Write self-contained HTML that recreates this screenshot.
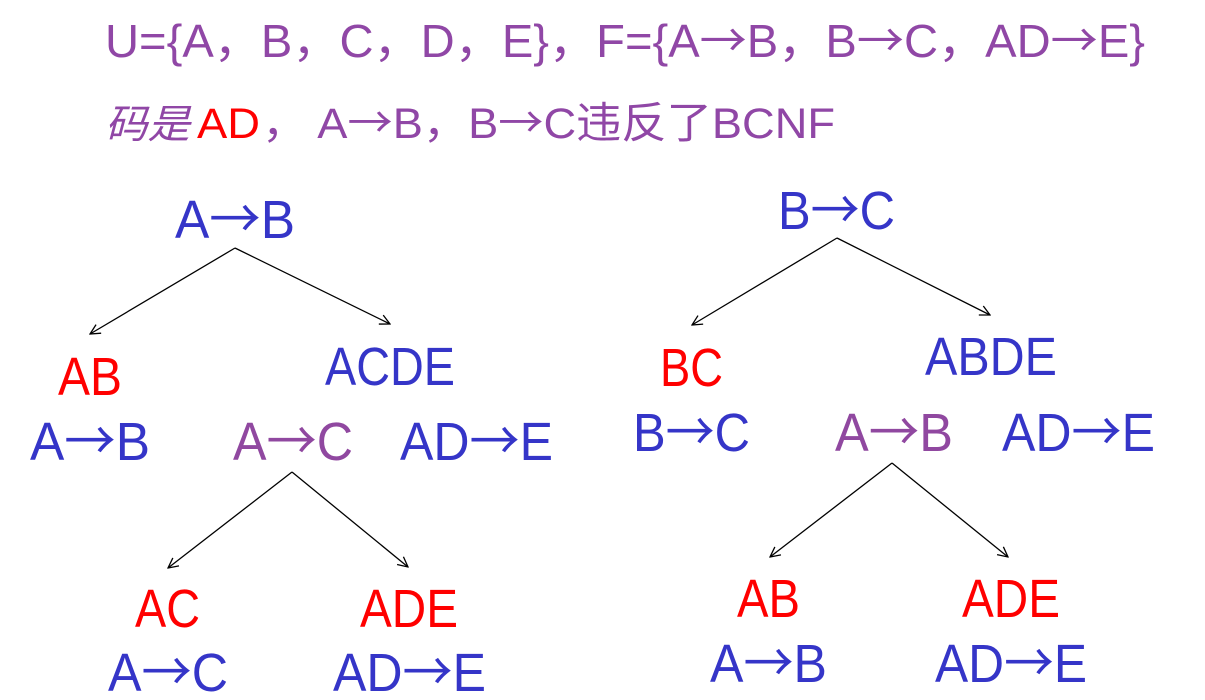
<!DOCTYPE html>
<html><head><meta charset="utf-8"><style>
html,body{margin:0;padding:0;background:#fff;}
svg{display:block;}
text{font-family:"Liberation Sans","Noto Sans CJK SC",sans-serif;}
.ar{font-family:"Noto Sans CJK SC","Liberation Sans",sans-serif;}
.p{fill:#9047a6;} .b{fill:#3535c8;} .r{fill:#ff0000;} .m{fill:#9048a0;}
line{stroke:#000;stroke-width:1.3;}
</style></head><body>
<svg width="1205" height="700" viewBox="0 0 1205 700">
<defs><marker id="ah" viewBox="0 0 12 12" refX="11" refY="6" markerWidth="12" markerHeight="12" markerUnits="userSpaceOnUse" orient="auto"><path d="M1,1 L11,6 L1,11" fill="none" stroke="#000" stroke-width="1.3"/></marker></defs>
<text class="p" x="105" y="57" font-size="46" textLength="1040" lengthAdjust="spacingAndGlyphs">U={A，B，C，D，E}，F={A<tspan class="ar">→</tspan>B，B<tspan class="ar">→</tspan>C，AD<tspan class="ar">→</tspan>E}</text>
<text class="p" x="105" y="138" font-size="40" textLength="85" lengthAdjust="spacingAndGlyphs" font-style="italic">码是</text>
<text class="r" x="197" y="138" font-size="43" textLength="63" lengthAdjust="spacingAndGlyphs">AD</text>
<text class="p" x="262" y="138" font-size="43" textLength="573" lengthAdjust="spacingAndGlyphs">，  A<tspan class="ar">→</tspan>B，B<tspan class="ar">→</tspan>C违反了BCNF</text>

<g>
<text class="b" x="175" y="238" font-size="54" textLength="120" lengthAdjust="spacingAndGlyphs">A<tspan class="ar">→</tspan>B</text>
<line x1="235" y1="248" x2="90" y2="334" marker-end="url(#ah)"/>
<line x1="235" y1="248" x2="390" y2="324" marker-end="url(#ah)"/>
<text class="r" x="58" y="395" font-size="54" textLength="64" lengthAdjust="spacingAndGlyphs">AB</text>
<text class="b" x="325" y="385" font-size="54" textLength="130" lengthAdjust="spacingAndGlyphs">ACDE</text>
<text class="b" x="30" y="460" font-size="54" textLength="120" lengthAdjust="spacingAndGlyphs">A<tspan class="ar">→</tspan>B</text>
<text class="m" x="233" y="460" font-size="54" textLength="120" lengthAdjust="spacingAndGlyphs">A<tspan class="ar">→</tspan>C</text>
<text class="b" x="400" y="460" font-size="54" textLength="153" lengthAdjust="spacingAndGlyphs">AD<tspan class="ar">→</tspan>E</text>
<line x1="292" y1="472" x2="168" y2="568" marker-end="url(#ah)"/>
<line x1="292" y1="472" x2="408" y2="567" marker-end="url(#ah)"/>
<text class="r" x="135" y="627" font-size="54" textLength="65" lengthAdjust="spacingAndGlyphs">AC</text>
<text class="r" x="360" y="627" font-size="54" textLength="98" lengthAdjust="spacingAndGlyphs">ADE</text>
<text class="b" x="108" y="691" font-size="54" textLength="120" lengthAdjust="spacingAndGlyphs">A<tspan class="ar">→</tspan>C</text>
<text class="b" x="333" y="691" font-size="54" textLength="153" lengthAdjust="spacingAndGlyphs">AD<tspan class="ar">→</tspan>E</text>
</g>

<g>
<text class="b" x="778" y="229" font-size="54" textLength="117" lengthAdjust="spacingAndGlyphs">B<tspan class="ar">→</tspan>C</text>
<line x1="837" y1="238" x2="692" y2="325" marker-end="url(#ah)"/>
<line x1="837" y1="238" x2="990" y2="315" marker-end="url(#ah)"/>
<text class="r" x="660" y="386" font-size="54" textLength="63" lengthAdjust="spacingAndGlyphs">BC</text>
<text class="b" x="925" y="375" font-size="54" textLength="132" lengthAdjust="spacingAndGlyphs">ABDE</text>
<text class="b" x="633" y="451" font-size="54" textLength="117" lengthAdjust="spacingAndGlyphs">B<tspan class="ar">→</tspan>C</text>
<text class="m" x="835" y="451" font-size="54" textLength="118" lengthAdjust="spacingAndGlyphs">A<tspan class="ar">→</tspan>B</text>
<text class="b" x="1002" y="451" font-size="54" textLength="153" lengthAdjust="spacingAndGlyphs">AD<tspan class="ar">→</tspan>E</text>
<line x1="892" y1="463" x2="770" y2="557" marker-end="url(#ah)"/>
<line x1="892" y1="463" x2="1008" y2="557" marker-end="url(#ah)"/>
<text class="r" x="737" y="617" font-size="54" textLength="63" lengthAdjust="spacingAndGlyphs">AB</text>
<text class="r" x="962" y="617" font-size="54" textLength="98" lengthAdjust="spacingAndGlyphs">ADE</text>
<text class="b" x="710" y="682" font-size="54" textLength="117" lengthAdjust="spacingAndGlyphs">A<tspan class="ar">→</tspan>B</text>
<text class="b" x="935" y="682" font-size="54" textLength="152" lengthAdjust="spacingAndGlyphs">AD<tspan class="ar">→</tspan>E</text>
</g>
</svg>
</body></html>
